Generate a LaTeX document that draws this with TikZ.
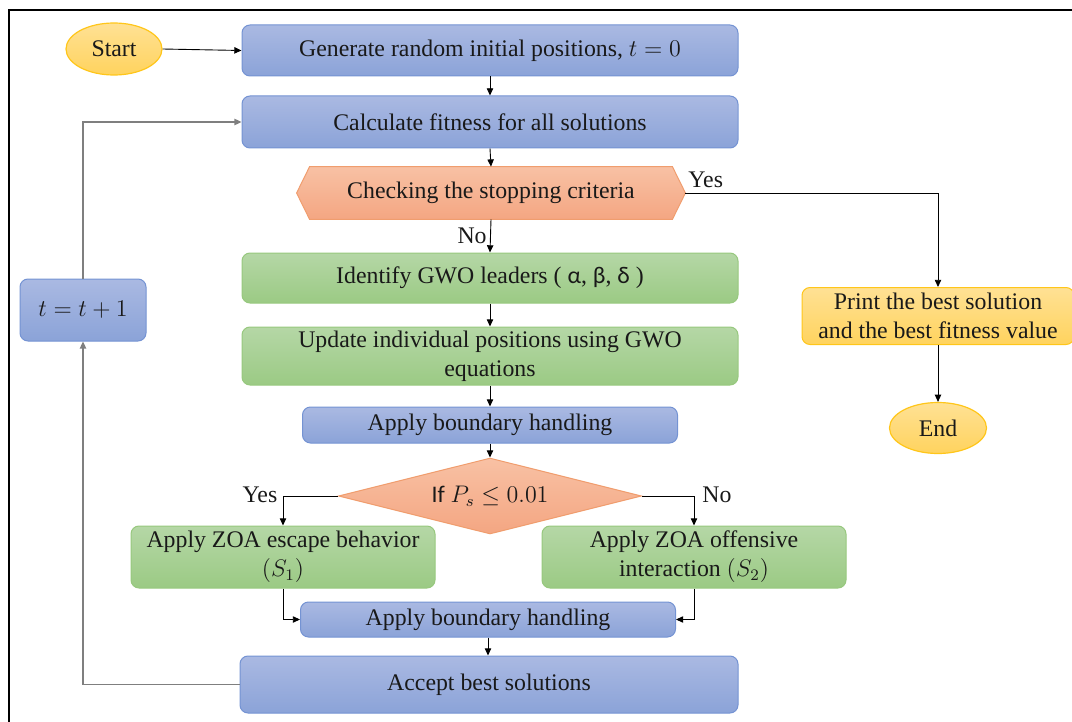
\documentclass[tikz,border=0pt]{standalone}
\usepackage{fontspec}
\setmainfont{Liberation Serif}
\newfontfamily\calibri{Carlito}
\usetikzlibrary{shapes.geometric,arrows.meta,calc}
\definecolor{bTop}{HTML}{AAB9E2}
\definecolor{bBot}{HTML}{8BA3D8}
\definecolor{bLine}{HTML}{7493D3}
\definecolor{gTop}{HTML}{B5D7A6}
\definecolor{gBot}{HTML}{9BCA84}
\definecolor{gLine}{HTML}{97C87E}
\definecolor{sTop}{HTML}{F8C1A4}
\definecolor{sBot}{HTML}{F4A682}
\definecolor{sLine}{HTML}{F09D6E}
\definecolor{yTop}{HTML}{FFE194}
\definecolor{yBot}{HTML}{FFD35E}
\definecolor{yLine}{HTML}{FFC61A}
\definecolor{fbGray}{HTML}{7F7F7F}
\begin{document}
\begin{tikzpicture}[x=0.5pt,y=-0.5pt,
  font=\fontsize{11.9}{14.5}\selectfont,
  every node/.style={inner sep=0pt,align=center,text=black!90},
  bluebox/.style={rectangle,rounded corners=4pt,draw=bLine,line width=0.5pt,top color=bTop,bottom color=bBot},
  greenbox/.style={rectangle,rounded corners=4pt,draw=gLine,line width=0.5pt,top color=gTop,bottom color=gBot},
  yellowbox/.style={rectangle,rounded corners=4pt,draw=yLine,line width=0.5pt,top color=yTop,bottom color=yBot},
  term/.style={ellipse,draw=yLine,line width=0.6pt,top color=yTop,bottom color=yBot},
  arr/.style={-{Triangle[length=3.6pt,width=3.2pt]},line width=0.45pt,black},
  fb/.style={line width=0.8pt,fbGray},
  fbarr/.style={fb,-{Triangle[length=3.6pt,width=3.2pt]}},
  lbl/.style={font=\fontsize{11.9}{14}\selectfont}
]
\useasboundingbox (0,0) rectangle (1072,722);
\draw[line width=1pt,black] (9,722) -- (9,10) -- (1074,10);

\node[term,minimum width=48pt,minimum height=26pt] (start) at (114,49) {Start};
\node[bluebox,minimum width=248pt,minimum height=25.5pt] (gen) at (490,50.5) {Generate random initial positions, $t=0$};
\node[bluebox,minimum width=248pt,minimum height=26pt] (calc) at (490,122) {Calculate fitness for all solutions};
\node[minimum width=181pt,minimum height=26pt] (chk) at (491,193) {};
\coordinate (chkL) at ($(chk.west)+(-13,0)$);
\coordinate (chkR) at ($(chk.east)+(13,0)$);
\path[draw=sLine,line width=0.5pt,top color=sTop,bottom color=sBot]
  (chk.north west) -- (chk.north east) -- (chkR) -- (chk.south east) -- (chk.south west) -- (chkL) -- cycle;
\node at (chk) {Checking the stopping criteria};
\node[greenbox,minimum width=248pt,minimum height=25pt] (ident) at (490,278) {Identify GWO leaders ( {\calibri α}, {\calibri β}, {\calibri δ} )};
\node[greenbox,minimum width=248pt,minimum height=29pt] (upd) at (490,356) {Update individual positions using GWO\\equations};
\node[bluebox,minimum width=187.5pt,minimum height=18pt] (bnd1) at (490,425) {Apply boundary handling};
\node[diamond,aspect=3.99,draw=sLine,line width=0.5pt,top color=sTop,bottom color=sBot,minimum width=151.5pt,minimum height=38pt] (dia) at (490,496) {{\calibri If} $P_s \le 0.01$};
\node[greenbox,minimum width=152pt,minimum height=31pt] (esc) at (283,557) {Apply ZOA escape behavior\\$(S_1)$};
\node[greenbox,minimum width=152pt,minimum height=31pt] (off) at (694,557) {Apply ZOA offensive\\interaction $(S_2)$};
\node[bluebox,minimum width=187.5pt,minimum height=17.5pt] (bnd2) at (488,619.5) {Apply boundary handling};
\node[bluebox,minimum width=249pt,minimum height=28.5pt] (acc) at (489,684.5) {Accept best solutions};
\node[bluebox,minimum width=63pt,minimum height=31pt,font=\fontsize{13}{15}\selectfont] (tinc) at (83,310) {$t=t+1$};
\node[yellowbox,minimum width=136pt,minimum height=28.5pt] (print) at (938,316) {Print the best solution\\and the best fitness value};
\node[term,minimum width=48.5pt,minimum height=25.5pt] (end) at (938,428) {End};

\draw[arr] (start.east) -- (gen.west);
\draw[arr] (gen.south) -- (calc.north);
\draw[arr] (calc.south) -- (chk.north);
\draw[arr] (chk.south) -- (ident.north);
\node[lbl,anchor=east] (nolbl) at (487,236) {No};
\draw[arr] (chkR) -| (print.north);
\node[lbl,anchor=west] (yeslbl) at (688,180) {Yes};
\draw[arr] (print.south) -- (end.north);
\draw[arr] (ident.south) -- (upd.north);
\draw[arr] (upd.south) -- (bnd1.north);
\draw[arr] (bnd1.south) -- (dia.north);
\draw[arr] (dia.west) -| (esc.north);
\node[lbl] (yes2) at (260,495) {Yes};
\draw[arr] (dia.east) -| (off.north);
\node[lbl] (no2) at (717,495) {No};
\draw[arr] (esc.south) |- (bnd2.west);
\draw[arr] (off.south) |- (bnd2.east);
\draw[arr] (bnd2.south) -- (bnd2.south |- acc.north);
\draw[fbarr] (acc.west) -| (tinc.south);
\draw[fbarr] (tinc.north) |- (calc.west);
\end{tikzpicture}
\end{document}
